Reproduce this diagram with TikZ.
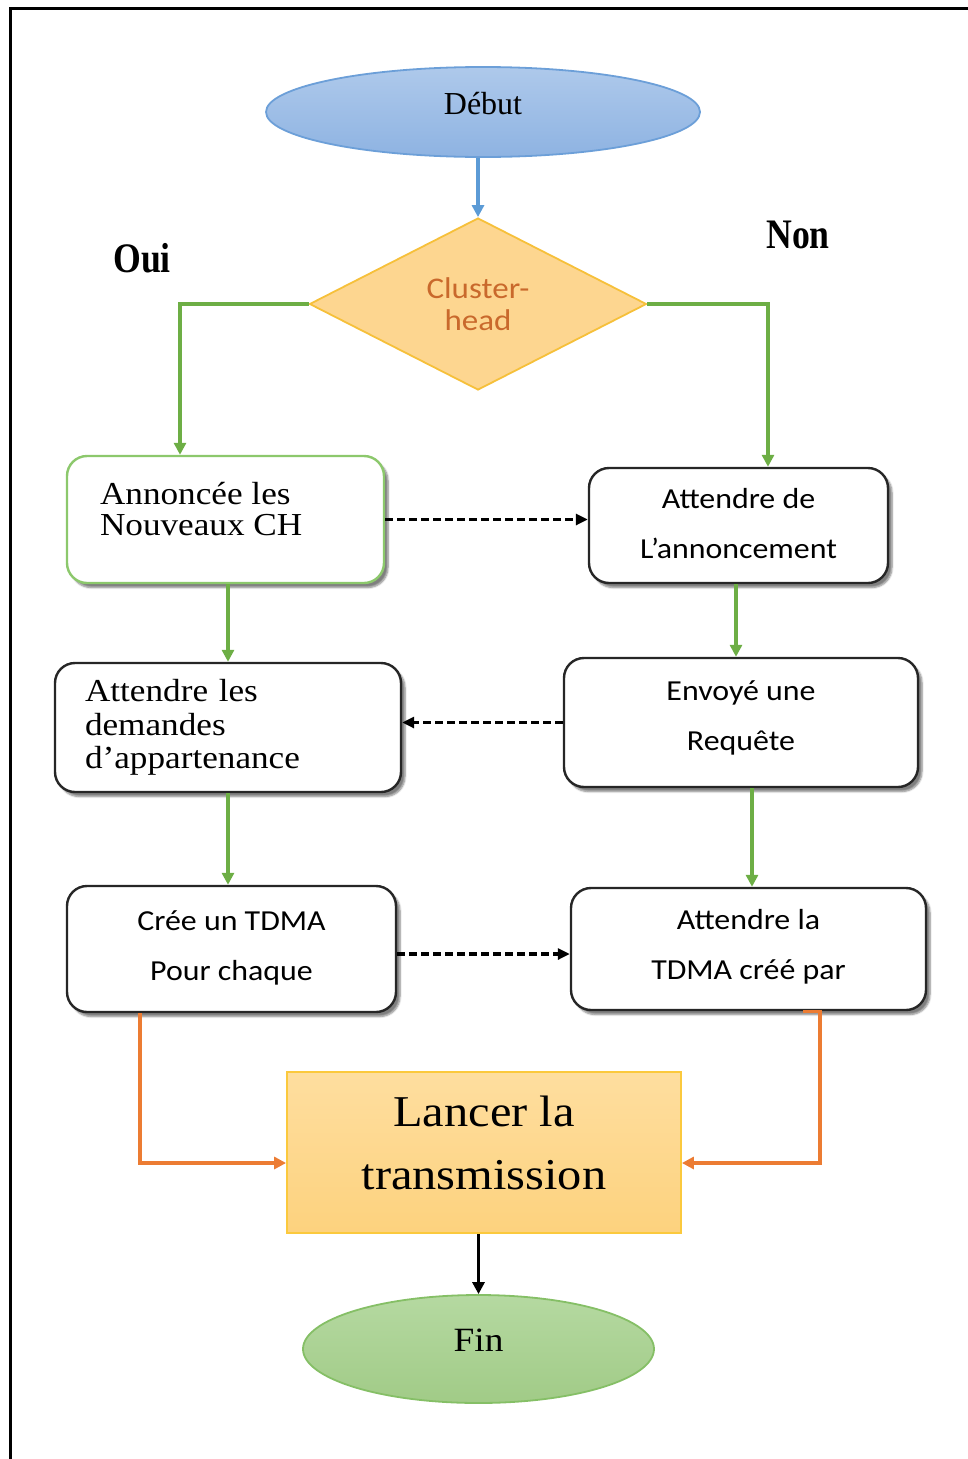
\documentclass[tikz,border=0pt]{standalone}
\usepackage{fontspec}
\setmainfont{Liberation Serif}
\newfontfamily\boxserif[FakeStretch=1.1]{Liberation Serif}
\newfontfamily\tallserif[FakeStretch=0.85]{Liberation Serif}
\newfontfamily\boxsans[FakeStretch=1.1]{Carlito}
\usetikzlibrary{shapes.geometric,arrows.meta,shadows.blur,calc}

\definecolor{startTop}{HTML}{AEC9EB}
\definecolor{startBot}{HTML}{8EB3E2}
\definecolor{startEdge}{HTML}{6C9FD8}
\definecolor{chFill}{HTML}{FDD690}
\definecolor{chEdge}{HTML}{F6C03A}
\definecolor{chText}{HTML}{C9692C}
\definecolor{annEdge}{HTML}{8CC86C}
\definecolor{boxEdge}{HTML}{262626}
\definecolor{gTop}{HTML}{FEDE9F}
\definecolor{gBot}{HTML}{FDD27E}
\definecolor{gEdge}{HTML}{FBC93D}
\definecolor{finTop}{HTML}{B5D9A1}
\definecolor{finBot}{HTML}{A1CB87}
\definecolor{finEdge}{HTML}{85BF66}
\definecolor{flowgreen}{HTML}{6DAE45}
\definecolor{flowblue}{HTML}{5C9BD6}
\definecolor{floworange}{HTML}{EC7C33}

% zero-width strut that deepens the last line of a node text
\newcommand{\lowstrut}[1]{\rule[-#1]{0pt}{#1}}

\begin{document}
\begin{tikzpicture}[x=1pt,y=-1pt,
  every node/.style={inner sep=0pt},
  flowline/.style={line width=3.2pt, -{Triangle[length=12pt,width=12pt]}},
  dashlink/.style={line width=3.6pt, black, dash pattern=on 8pt off 4pt,
    -{Triangle[length=12pt,width=11pt]}},
  boxshadow/.style={blur shadow={shadow xshift=4pt, shadow yshift=-4.5pt,
    shadow blur steps=6, shadow opacity=50}},
  stepbox/.style={rectangle, rounded corners=20pt, draw=boxEdge,
    line width=2.4pt, fill=white, boxshadow},
  sanstext/.style={font=\boxsans\fontsize{29}{50}\selectfont, align=center},
  seriftext/.style={font=\boxserif\fontsize{32}{33.5}\selectfont, align=left},
]
\useasboundingbox (0,0) rectangle (968,1459);

% page frame (top and left edges)
\draw[line width=3pt, black] (968,8) -- (10,8) -- (10,1459);

% start / decision
\node[ellipse, minimum width=434pt, minimum height=90pt, draw=startEdge,
  line width=1.8pt, top color=startTop, bottom color=startBot,
  font=\fontsize{32}{34}\selectfont] (start) at (483,112) {Début\lowstrut{18pt}};
\node[diamond, aspect=1.96, minimum width=337pt, minimum height=172pt,
  draw=chEdge, line width=1.8pt, fill=chFill, text=chText, align=center,
  font=\boxsans\fontsize{30}{32}\selectfont] (ch) at (478,304) {Cluster-\\head};

\node[font=\tallserif\bfseries\fontsize{42}{44}\selectfont] (oui) at (142,258) {Oui};
\node[font=\tallserif\bfseries\fontsize{42}{44}\selectfont] (non) at (798,235) {Non};

% left column (cluster-head)
\node[stepbox, draw=annEdge, minimum width=317pt, minimum height=127pt] (ann)
  at (225.5,519.5)
  {\parbox[c][127pt][t]{251pt}{\boxserif\fontsize{32}{31}\selectfont
   \vspace*{26pt}Annoncée les\\Nouveaux CH}};
\node[stepbox, seriftext, text width=286pt, minimum width=346pt,
  minimum height=129pt] (dem) at (228,727.5)
  {Attendre les\\demandes\\d’appartenance};
\node[stepbox, sanstext, minimum width=329pt, minimum height=126pt] (tdma)
  at (231.5,949) {Crée un TDMA\\Pour chaque\lowstrut{6pt}};

% right column (member node)
\node[stepbox, sanstext, minimum width=299pt, minimum height=115pt] (wait)
  at (738.5,525.5) {Attendre de\\L’annoncement\lowstrut{4pt}};
\node[stepbox, sanstext, minimum width=354pt, minimum height=129pt] (req)
  at (741,722.5) {Envoyé une\\Requête\lowstrut{14pt}};
\node[stepbox, sanstext, minimum width=355pt, minimum height=122pt] (recv)
  at (748.5,949) {Attendre la\\TDMA créé par\lowstrut{10pt}};

% transmission and end
\node[rectangle, minimum width=394pt, minimum height=161pt, draw=gEdge,
  line width=1.8pt, top color=gTop, bottom color=gBot, align=center,
  font=\boxserif\fontsize{44}{63}\selectfont] (launch) at (484,1152.5)
  {Lancer la\\transmission\lowstrut{20pt}};
\node[ellipse, minimum width=351pt, minimum height=108pt, draw=finEdge,
  line width=1.8pt, top color=finTop, bottom color=finBot,
  font=\boxserif\fontsize{34}{36}\selectfont] (fin) at (478.5,1349)
  {Fin\lowstrut{18pt}};

% connectors
\draw[flowline, flowblue] (ch.north |- start.south) -- (ch.north);
\draw[flowline, flowgreen] (ch.west) -| ([xshift=-45.5pt]ann.north);
\draw[flowline, flowgreen] (ch.east) -| ([xshift=29.5pt]wait.north);

\draw[dashlink] (ann.east) -- (wait.west |- ann.east);
\draw[flowline, flowgreen] (dem.north |- ann.south) -- (dem.north);
\draw[flowline, flowgreen] ([xshift=-2.5pt]wait.south)
  -- ([xshift=-2.5pt]wait.south |- req.north);

\draw[dashlink] (req.west) -- (dem.east |- req.west);
\draw[flowline, flowgreen] (dem.south) -- (dem.south |- tdma.north);
\draw[flowline, flowgreen] ([xshift=11pt]req.south)
  -- ([xshift=11pt]req.south |- recv.north);

\draw[dashlink] ([yshift=-5pt]tdma.east) -- ([yshift=-5pt]recv.west);

\draw[flowline, floworange]
  ([xshift=-91.5pt]tdma.south) |- ([yshift=-10.5pt]launch.west);
\draw[flowline, floworange]
  ([xshift=54.5pt]recv.south) -- ([xshift=71.5pt]recv.south)
  |- ([yshift=-10.5pt]launch.east);

\draw[flowline, black] (launch.south -| fin.north) -- (fin.north);
\end{tikzpicture}
\end{document}
